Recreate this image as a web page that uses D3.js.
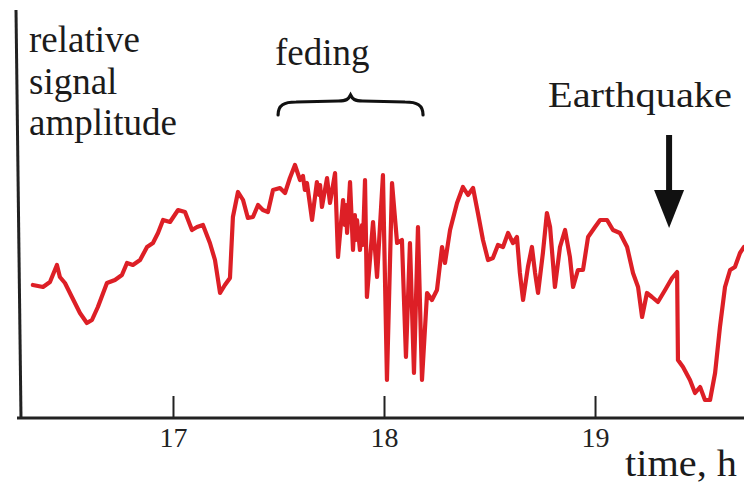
<!DOCTYPE html>
<html>
<head>
<meta charset="utf-8">
<script src="https://cdn.jsdelivr.net/npm/d3@7"></script>
<style>
  body { margin: 0; background: #fff; }
  svg { display: block; }
</style>
</head>
<body>
<script>
const width = 744
const height = 484
const serif = "Liberation Serif"

// time, hours
const times = [16.336, 16.384, 16.417, 16.450, 16.464, 16.488, 16.521, 16.559, 16.592, 16.616,
  16.644, 16.687, 16.725, 16.758, 16.782, 16.810, 16.844, 16.877, 16.905, 16.929,
  16.953, 16.986, 17.024, 17.057, 17.090, 17.114, 17.142, 17.175, 17.199, 17.223,
  17.246, 17.270, 17.284, 17.308, 17.332, 17.355, 17.379, 17.403, 17.426, 17.450,
  17.474, 17.507, 17.531, 17.554, 17.578, 17.602, 17.616, 17.625, 17.635, 17.659, 17.682, 17.692, 17.697, 17.706,
  17.730, 17.744, 17.768, 17.782, 17.806, 17.815, 17.820, 17.825, 17.839, 17.853, 17.862, 17.867, 17.872, 17.886, 17.896, 17.900,
  17.910, 17.919, 17.948, 17.967, 17.995, 18.014, 18.038, 18.062, 18.085, 18.104,
  18.123, 18.142, 18.161, 18.180, 18.204, 18.227, 18.251, 18.275, 18.289, 18.313,
  18.346, 18.374, 18.398, 18.422, 18.445, 18.469, 18.493, 18.516, 18.540, 18.564,
  18.588, 18.611, 18.630, 18.644, 18.659, 18.682, 18.701, 18.716, 18.730, 18.753,
  18.772, 18.787, 18.810, 18.834, 18.858, 18.881, 18.896, 18.919, 18.943, 18.967,
  19.000, 19.024, 19.057, 19.085, 19.118, 19.152, 19.180, 19.204, 19.223, 19.246,
  19.270, 19.298, 19.332, 19.365, 19.389, 19.393, 19.417, 19.450, 19.474, 19.498,
  19.521, 19.545, 19.569, 19.592, 19.616, 19.640, 19.663, 19.687, 19.706]

// relative signal amplitude (arbitrary units)
const amplitude = [33.25, 32.75, 34, 38.25, 35.25, 33.75, 30.25, 26.25, 23.75, 24.5,
  27.75, 33.75, 34.5, 35.75, 38.75, 38.25, 39.5, 42.75, 43.75, 46.25,
  49.5, 49, 52, 51.5, 47, 47.75, 48.25, 43.75, 39.5, 31.25,
  33.25, 35, 50.25, 56.5, 54.5, 50, 50.25, 53.25, 52, 51.5,
  57, 57.5, 56.25, 60, 63.25, 59.5, 60.5, 57, 58.75, 49.5, 59, 55.75, 58.25, 52.75,
  60, 53.75, 61.25, 40.25, 54.5, 48.25, 53.25, 46.25, 59, 42, 50.75, 44.5, 49.5, 42, 48.25, 43.25,
  59.5, 30.25, 49, 35.25, 60.75, 9.5, 58.75, 43.75, 44.5, 15.25,
  43.75, 11.25, 47.75, 9.5, 31.25, 29.5, 32, 42.75, 38.75, 47,
  53.75, 57.75, 55.75, 57.5, 51.25, 44.5, 39.5, 40, 43.25, 42.75,
  46.25, 43.75, 45.25, 36.25, 29.5, 37.75, 42.75, 36.25, 31.25, 41.25,
  51.25, 47.75, 32.75, 42.75, 47, 40.25, 32.75, 37, 37, 45.25,
  47.75, 49.5, 49.5, 47, 46.25, 42.75, 36.25, 32.75, 25.25, 31.25,
  30.25, 29, 32, 35, 36.5, 14.5, 12.75, 9.5, 6.25, 7.75,
  4.5, 4.5, 11.25, 22.75, 32.75, 37, 37.75, 41.25, 42.75]

const tickHours = [17, 18, 19]
const yLabelLines = ["relative", "signal", "amplitude"]
const fadingSpan = [17.498, 18.185]
const quakeTime = 19.351

const data = times.map((t, i) => ({ t: t, v: amplitude[i] }))

const svg = d3.select("body").append("svg")
    .attr("width", width)
    .attr("height", height)

const x = d3.scaleLinear().domain([16.275, 19.706]).range([20, 744])
const y = d3.scaleLinear().domain([0, 102]).range([418, 10])

// signal
svg.append("path")
    .datum(data)
    .attr("fill", "none")
    .attr("stroke", "#dd1f26")
    .attr("stroke-width", 4.2)
    .attr("stroke-linejoin", "round")
    .attr("stroke-linecap", "round")
    .attr("d", d3.line().x(d => x(d.t)).y(d => y(d.v)))

// x axis, ticks point up into the plot
const xAxis = svg.append("g")
    .attr("transform", `translate(0,${y(0)})`)
    .call(d3.axisBottom(x).tickValues(tickHours).tickFormat(d3.format("d"))
        .tickSizeInner(-22).tickSizeOuter(0).tickPadding(9))
xAxis.select(".domain").attr("stroke", "#222").attr("stroke-width", 3)
    .attr("d", `M17,0H744`)
xAxis.selectAll(".tick line").attr("stroke", "#222").attr("stroke-width", 2)
xAxis.selectAll(".tick text")
    .attr("fill", "#222")
    .attr("font-family", "Liberation Sans Narrow")
    .attr("font-size", 28)

// y axis, just the line (slightly leaning, as in the scan)
const yAxis = svg.append("g")
    .attr("transform", `translate(${x.range()[0]},0)`)
    .call(d3.axisLeft(y).tickValues([]).tickSizeOuter(0))
yAxis.select(".domain").attr("stroke", "#222").attr("stroke-width", 3)
    .attr("d", `M-4,${y.range()[1]}L1,${y.range()[0]}`)

// labels
const yl = svg.append("text")
    .attr("font-family", serif).attr("font-size", 37).attr("fill", "#1b1b1b")
yl.selectAll("tspan")
    .data(yLabelLines)
    .enter()
    .append("tspan")
    .attr("x", 29)
    .attr("y", (d, i) => 52 + i * 41.5)
    .text(d => d)

svg.append("text")
    .attr("font-family", serif).attr("font-size", 37).attr("fill", "#1b1b1b")
    .attr("x", 275).attr("y", 65)
    .text("feding")

// brace over the fading interval
const b0 = x(fadingSpan[0]), b1 = x(fadingSpan[1]), bm = (b0 + b1) / 2
svg.append("path")
    .attr("fill", "none")
    .attr("stroke", "#111")
    .attr("stroke-width", 3.2)
    .attr("stroke-linecap", "round")
    .attr("d", `M${b0},115 C${b0},105 ${b0 + 6},102 ${b0 + 18},102 L${bm - 12},101
                C${bm - 4},101 ${bm - 2},99 ${bm},95 C${bm + 2},99 ${bm + 4},101 ${bm + 12},101
                L${b1 - 18},102 C${b1 - 6},102 ${b1},105 ${b1},115`)

svg.append("text")
    .attr("font-family", serif).attr("font-size", 36).attr("fill", "#1b1b1b")
    .attr("x", 548).attr("y", 107)
    .attr("textLength", 184).attr("lengthAdjust", "spacingAndGlyphs")
    .text("Earthquake")

// arrow to the quake moment
const ax = x(quakeTime)
svg.append("line")
    .attr("x1", ax).attr("x2", ax)
    .attr("y1", 135).attr("y2", 196)
    .attr("stroke", "#111").attr("stroke-width", 6)
svg.append("path")
    .attr("fill", "#111")
    .attr("d", `M${ax - 15},190 L${ax + 15},190 L${ax},228 Z`)

svg.append("text")
    .attr("font-family", serif).attr("font-size", 37).attr("fill", "#1b1b1b")
    .attr("x", 625).attr("y", 476)
    .attr("textLength", 112).attr("lengthAdjust", "spacingAndGlyphs")
    .text("time, h")
</script>
</body>
</html>
